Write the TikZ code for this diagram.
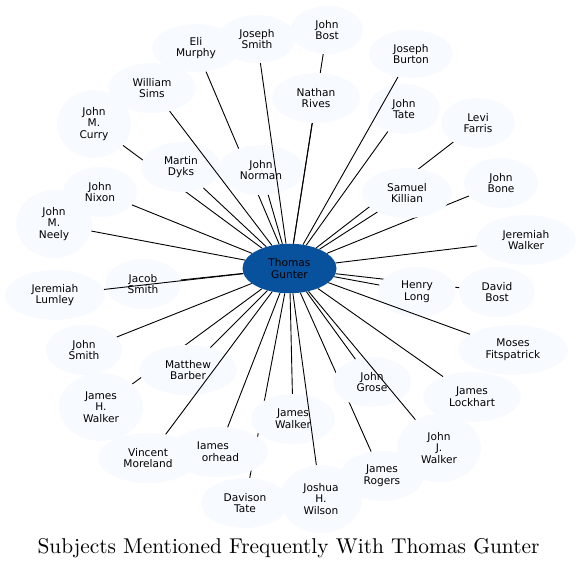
\documentclass[tikz,border=0pt]{standalone}
\usepackage{fontspec}
\newfontfamily\dejavu{DejaVu Sans}
\newfontfamily\lmtitle{lmroman10-regular.otf}
\usetikzlibrary{shapes.geometric}
\definecolor{nodefill}{HTML}{F7FBFF}
\definecolor{hub}{HTML}{08519C}
\tikzset{
  person/.style={ellipse, fill=nodefill, draw=none, inner sep=0pt, align=center,
    text=black, font=\dejavu\fontsize{10.6}{11.7}\selectfont},
  hubnode/.style={person, fill=hub},
  link/.style={line width=0.9pt, black},
}
\newcommand\pnode[6]{\node[person, minimum width=#4pt, minimum height=#5pt] (#1) at (#2,#3) {#6};}
\begin{document}
\begin{tikzpicture}[x=1pt, y=-1pt]
\useasboundingbox (0,0) rectangle (582,569);
% ---- invisible shapes used to route the edges that run beneath other nodes ----
\begin{scope}[person/.append style={fill=none, text opacity=0}]
\pnode{Hc}{289.5}{268.5}{94}{49.5}{Thomas\\Gunter}
\pnode{Hcurry}{94}{124}{74}{68}{John\\M.\\Curry}
\pnode{Heli}{196}{48}{88}{48}{Eli\\Murphy}
\pnode{Hbost}{327}{30}{72}{48}{John\\Bost}
\pnode{Hfarris}{478}{123}{74}{50}{Levi\\Farris}
\pnode{Hbone}{501}{183}{74}{50}{John\\Bone}
\pnode{Hdbost}{497}{292}{76}{50}{David\\Bost}
\pnode{Hrogers}{382}{476}{84}{50}{James\\Rogers}
\pnode{Hjhwalker}{101}{407}{84}{68}{James\\H.\\Walker}
\pnode{Hdavison}{245}{503}{88}{50}{Davison\\Tate}
\end{scope}
% ---- edges hidden beneath other nodes ----
\foreach \t in {Hcurry,Heli,Hbost,Hfarris,Hbone,Hdbost,Hrogers,Hjhwalker,Hdavison}
  \draw[link] (Hc) -- (\t);
% ---- visible nodes ----
\pnode{bost}{327}{30}{72}{48}{John\\Bost}
\pnode{jsmith}{257}{39}{78}{48}{Joseph\\Smith}
\pnode{eli}{196}{48}{88}{48}{Eli\\Murphy}
\pnode{burton}{411}{54}{84}{48}{Joseph\\Burton}
\pnode{rives}{316}{98}{88}{50}{Nathan\\Rives}
\pnode{sims}{152}{88}{88}{50}{William\\Sims}
\pnode{curry}{94}{124}{74}{68}{John\\M.\\Curry}
\pnode{tate}{404}{109}{72}{50}{John\\Tate}
\pnode{farris}{478}{123}{74}{50}{Levi\\Farris}
\pnode{dyks}{181}{167}{80}{50}{Martin\\Dyks}
\pnode{norman}{261}{170}{86}{50}{John\\Norman}
\pnode{killian}{407}{193}{90}{50}{Samuel\\Killian}
\pnode{bone}{501}{183}{74}{50}{John\\Bone}
\pnode{nixon}{100}{192}{74}{50}{John\\Nixon}
\pnode{neely}{54}{224}{76}{68}{John\\M.\\Neely}
\pnode{jerwalker}{526}{240}{100}{50}{Jeremiah\\Walker}
\pnode{jacob}{143}{284}{76}{50}{Jacob\\Smith}
\pnode{lumley}{55}{295}{100}{50}{Jeremiah\\Lumley}
\pnode{henry}{417}{292}{78}{50}{Henry\\Long}
\pnode{dbost}{497}{292}{76}{50}{David\\Bost}
\pnode{moses}{513}{350}{110}{50}{Moses\\Fitspatrick}
\pnode{jnsmith}{84}{350}{76}{50}{John\\Smith}
\pnode{barber}{188}{370}{98}{50}{Matthew\\Barber}
\pnode{grose}{372}{382}{78}{50}{John\\Grose}
\pnode{lockhart}{472}{397}{98}{50}{James\\Lockhart}
\pnode{jhwalker}{101}{407}{84}{68}{James\\H.\\Walker}
\pnode{jamwalker}{293}{419}{84}{50}{James\\Walker}
\pnode{jjwalker}{439}{448}{84}{68}{John\\J.\\Walker}
\node[person, minimum width=100pt, minimum height=50pt, align=left] (moorhead) at (218,452) {Iames\\\hspace*{5pt}orhead};
\pnode{vincent}{148}{458}{100}{50}{Vincent\\Moreland}
\pnode{rogers}{382}{476}{84}{50}{James\\Rogers}
\pnode{davison}{245}{503}{88}{50}{Davison\\Tate}
\pnode{wilson}{321}{499}{82}{68}{Joshua\\H.\\Wilson}
\node[hubnode, minimum width=94pt, minimum height=49.5pt] (c) at (289.5,268.5) {Thomas\\Gunter};
% ---- edges drawn over the nodes ----
\foreach \t in {jsmith,burton,rives,sims,tate,dyks,norman,killian,nixon,neely,jerwalker,
  jacob,lumley,henry,moses,jnsmith,barber,grose,lockhart,jamwalker,jjwalker,vincent,
  moorhead,wilson}
  \draw[link] (c) -- (\t);
% ---- title ----
\node[inner sep=0pt, anchor=base, font=\lmtitle\fontsize{21.4}{25}\selectfont] (title) at (288.5,554)
  {Subjects Mentioned Frequently With Thomas Gunter};
\end{tikzpicture}
\end{document}
